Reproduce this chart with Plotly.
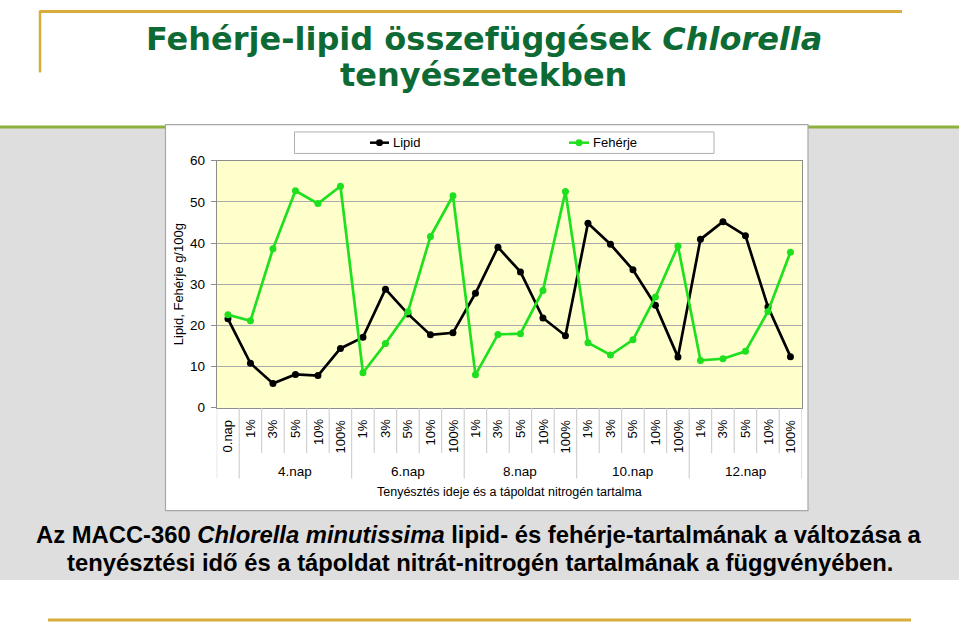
import plotly.graph_objects as go

# ---------------- data ----------------
days = ["4.nap", "6.nap", "8.nap", "10.nap", "12.nap"]
concentrations = ["1%", "3%", "5%", "10%", "100%"]
start_label = "0.nap"
categories = [start_label] + [c for _ in days for c in concentrations]

lipid = [21.6, 10.8, 5.9, 8.1, 7.8, 14.4,
         17.1, 28.8, 22.8, 17.7, 18.2,
         27.8, 39.0, 33.0, 21.8, 17.5,
         44.8, 39.7, 33.5, 24.9, 12.3,
         40.9, 45.2, 41.8, 24.5, 12.4]
feherje = [22.6, 21.1, 38.6, 52.7, 49.6, 53.8,
           8.5, 15.6, 23.3, 41.6, 51.5,
           8.0, 17.8, 18.0, 28.5, 52.5,
           15.8, 12.8, 16.5, 26.9, 39.3,
           11.5, 11.9, 13.7, 23.4, 37.8]
y_ticks = [0, 10, 20, 30, 40, 50, 60]

W, H = 959, 630
def px(x): return x / W
def py(y): return 1 - y / H

GREEN = "#1EE01E"
BLACK = "#000000"
FONT = "Liberation Sans, Arial, sans-serif"

idx = list(range(len(categories)))

fig = go.Figure()
fig.add_trace(go.Scatter(x=idx, y=lipid, mode="lines+markers", name="Lipid",
                         line=dict(color=BLACK, width=2.7),
                         marker=dict(color=BLACK, size=7)))
fig.add_trace(go.Scatter(x=idx, y=feherje, mode="lines+markers", name="Fehérje",
                         line=dict(color=GREEN, width=2.7),
                         marker=dict(color=GREEN, size=7)))

plot_l, plot_r = 216.7, 801.7
plot_t, plot_b = 157.5, 410.5

shapes = []
# gray band
shapes.append(dict(type="rect", xref="paper", yref="paper", x0=0, x1=1,
                   y0=py(587), y1=py(124), fillcolor="#DEDEDE", line=dict(width=0), layer="below"))
# olive green line
shapes.append(dict(type="line", xref="paper", yref="paper", x0=0, x1=1,
                   y0=py(123), y1=py(123), line=dict(color="#8DB03C", width=3), layer="below"))
# gold frame
shapes.append(dict(type="line", xref="paper", yref="paper", x0=px(40), x1=px(902),
                   y0=py(4.5), y1=py(4.5), line=dict(color="#D7AE3E", width=3), layer="below"))
shapes.append(dict(type="line", xref="paper", yref="paper", x0=px(40), x1=px(40),
                   y0=py(3.5), y1=py(67), line=dict(color="#D7AE3E", width=2.5), layer="below"))
shapes.append(dict(type="line", xref="paper", yref="paper", x0=px(48), x1=px(911),
                   y0=py(628), y1=py(628), line=dict(color="#D7AE3E", width=3), layer="below"))
# chart box
shapes.append(dict(type="rect", xref="paper", yref="paper", x0=px(165.5), x1=px(808),
                   y0=py(516), y1=py(120.5), fillcolor="white",
                   line=dict(color="#A8A8A8", width=1.2), layer="below"))
# plot area background
shapes.append(dict(type="rect", xref="paper", yref="paper", x0=px(plot_l), x1=px(plot_r),
                   y0=py(plot_b), y1=py(plot_t), fillcolor="#FFFFCC",
                   line=dict(width=0), layer="below"))
# category separators
group_edges = {-0.5, 0.5, 5.5, 10.5, 15.5, 20.5, 25.5}
for k in range(len(categories) + 1):
    xb = k - 0.5
    yb = 483 if xb in group_edges else 457
    shapes.append(dict(type="line", xref="x", yref="paper", x0=xb, x1=xb,
                       y0=py(plot_b), y1=py(yb), line=dict(color="#C8C8C8", width=1)))
# legend box
shapes.append(dict(type="rect", xref="paper", yref="paper", x0=px(294.5), x1=px(714),
                   y0=py(150), y1=py(128), fillcolor="white",
                   line=dict(color="#B0B0B0", width=1)))
for (x0, x1, col) in [(370, 389, BLACK), (569, 589, GREEN)]:
    shapes.append(dict(type="line", xref="paper", yref="paper", x0=px(x0), x1=px(x1),
                       y0=py(139), y1=py(139), line=dict(color=col, width=2.5)))
    xc = (x0 + x1) / 2
    shapes.append(dict(type="circle", xref="paper", yref="paper", x0=px(xc - 3.5), x1=px(xc + 3.5),
                       y0=py(142.5), y1=py(135.5), fillcolor=col, line=dict(color=col, width=0)))

annotations = []
# title
annotations.append(dict(text="Fehérje-lipid összefüggések <i>Chlorella</i>", xref="paper", yref="paper",
                        x=px(484), y=py(33), xanchor="center", yanchor="middle", showarrow=False,
                        font=dict(family="DejaVu Sans", size=32, color="#0D6A34", weight="bold")))
annotations.append(dict(text="tenyészetekben", xref="paper", yref="paper",
                        x=px(483), y=py(70), xanchor="center", yanchor="middle", showarrow=False,
                        font=dict(family="DejaVu Sans", size=32, color="#0D6A34", weight="bold")))
# caption
annotations.append(dict(text="Az MACC-360 <i>Chlorella minutissima</i> lipid- és fehérje-tartalmának a változása a",
                        xref="paper", yref="paper", x=px(479), y=py(540), xanchor="center", yanchor="middle",
                        showarrow=False, font=dict(family=FONT, size=23.8, color="black", weight="bold")))
annotations.append(dict(text="tenyésztési idő és a tápoldat nitrát-nitrogén tartalmának a függvényében.",
                        xref="paper", yref="paper", x=px(480), y=py(569), xanchor="center", yanchor="middle",
                        showarrow=False, font=dict(family=FONT, size=23.8, color="black", weight="bold")))
# legend text
annotations.append(dict(text="Lipid", xref="paper", yref="paper", x=px(391), y=py(139),
                        xanchor="left", yanchor="middle", showarrow=False,
                        font=dict(family=FONT, size=13, color="black")))
annotations.append(dict(text="Fehérje", xref="paper", yref="paper", x=px(591), y=py(139),
                        xanchor="left", yanchor="middle", showarrow=False,
                        font=dict(family=FONT, size=13, color="black")))
# category labels
for i, lab in enumerate(categories):
    annotations.append(dict(text=lab, xref="x", yref="paper", x=i, y=py(420),
                            xanchor="center", yanchor="top", textangle=-90, showarrow=False,
                            font=dict(family=FONT, size=13, color="black")))
# day group labels
for g, d in enumerate(days):
    annotations.append(dict(text=d, xref="x", yref="paper", x=1 + g * 5 + 2, y=py(476),
                            xanchor="center", yanchor="middle", showarrow=False,
                            font=dict(family=FONT, size=13.5, color="black")))
# axis titles
annotations.append(dict(text="Tenyésztés ideje és a tápoldat nitrogén tartalma", xref="paper", yref="paper",
                        x=px((plot_l + plot_r) / 2), y=py(497), xanchor="center", yanchor="middle",
                        showarrow=False, font=dict(family=FONT, size=12.5, color="black")))
annotations.append(dict(text="Lipid, Fehérje g/100g", xref="paper", yref="paper",
                        x=px(178), y=py((plot_t + plot_b) / 2), xanchor="center", yanchor="middle",
                        textangle=-90, showarrow=False, font=dict(family=FONT, size=13, color="black")))

fig.update_layout(
    width=W, height=H, margin=dict(l=0, r=0, t=0, b=0),
    paper_bgcolor="white", plot_bgcolor="rgba(0,0,0,0)",
    showlegend=False, shapes=shapes, annotations=annotations,
    xaxis=dict(domain=[px(plot_l), px(plot_r)], range=[-0.5, len(categories) - 0.5],
               showticklabels=False, showgrid=False, zeroline=False, ticks="",
               showline=True, linecolor="#8C8C8C", linewidth=1, mirror=True, fixedrange=True),
    yaxis=dict(domain=[py(plot_b), py(plot_t)], range=[0, 60], tickvals=y_ticks,
               showgrid=True, gridcolor="#ABABAB", gridwidth=1, zeroline=False,
               ticks="outside", ticklen=5, tickcolor="#8C8C8C", ticklabelstandoff=3,
               showline=True, linecolor="#8C8C8C", linewidth=1, mirror=True,
               tickfont=dict(family=FONT, size=13.5, color="black"), fixedrange=True),
)

fig.write_html("out.html")
